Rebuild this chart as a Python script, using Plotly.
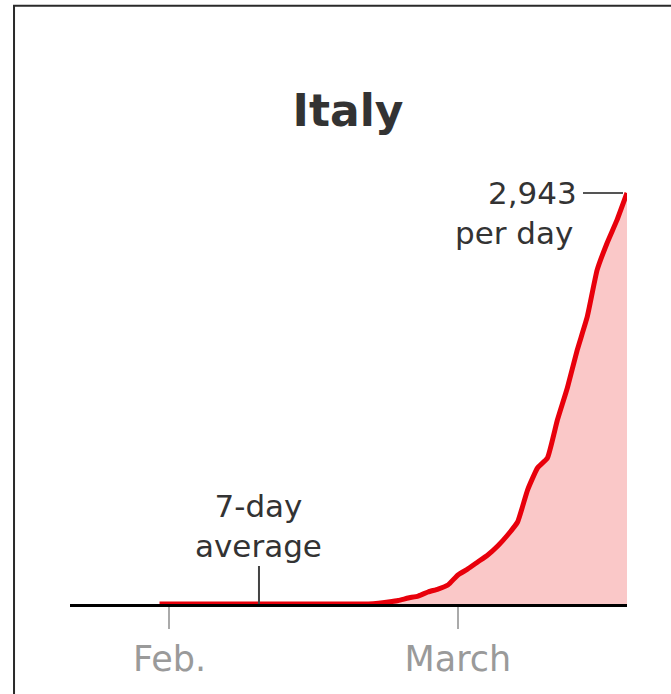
import pandas as pd
import plotly.graph_objects as go

# 7-day average of new cases in Italy
dates = pd.date_range("2020-01-31", "2020-03-18", freq="D")
cases = [0] * 22 + [
    5, 14, 25, 43, 57, 86, 107, 136,          # Feb 22 - Feb 29
    208, 251, 301, 351, 415, 494, 587, 816,   # Mar 1 - Mar 8
    974, 1045, 1317, 1547, 1819, 2055, 2392,  # Mar 9 - Mar 15
    2585, 2750, 2943,                         # Mar 16 - Mar 18
]
tick_vals = ["2020-02-01", "2020-03-01"]
tick_text = ["Feb.", "March"]
x_range = ["2020-01-22", "2020-03-18"]

FONT = "DejaVu Sans"
TEXT = "#333333"

fig = go.Figure()
fig.add_trace(go.Scatter(
    x=dates, y=cases,
    mode="lines",
    line=dict(color="#e8000b", width=5, shape="spline", smoothing=0.4),
    fill="tozeroy",
    fillcolor="rgba(249,192,192,0.88)",
    hoverinfo="skip",
    showlegend=False))

fig.add_annotation(
    x=dates[-1], y=cases[-1], text="2,943",
    showarrow=True, arrowhead=0, arrowwidth=2, arrowcolor="#555555",
    ax=-44, ay=0, xanchor="right", standoff=4, borderpad=5,
    font=dict(family=FONT, size=31, color=TEXT))
fig.add_annotation(
    x=dates[-1], y=cases[-1], text="per day",
    showarrow=False, xanchor="right", yanchor="middle",
    xshift=-52, yshift=-40,
    font=dict(family=FONT, size=31, color=TEXT))
fig.add_annotation(
    x="2020-02-10", y=0, text="7-day<br>average",
    showarrow=True, arrowhead=0, arrowwidth=2, arrowcolor="#444444",
    ax=0, ay=-38, yanchor="bottom",
    font=dict(family=FONT, size=31, color=TEXT))

# card border
fig.add_shape(type="rect", xref="paper", yref="paper",
              x0=-0.1005, x1=1.2, y0=-0.3, y1=1.428,
              line=dict(color="#2a2a2a", width=2))

fig.update_layout(
    width=671, height=694,
    margin=dict(l=70, r=44, t=185, b=90),
    paper_bgcolor="white", plot_bgcolor="white",
    title=dict(text="<b>Italy</b>", x=348 / 671, xanchor="center",
               y=1 - 111 / 694, yanchor="middle",
               font=dict(family=FONT, size=44, color=TEXT)),
    xaxis=dict(range=x_range, type="date",
               tickvals=tick_vals, ticktext=tick_text,
               showgrid=False, zeroline=False,
               showline=True, linecolor="black", linewidth=3,
               ticks="outside", ticklen=22, tickwidth=2, tickcolor="#aaaaaa",
               tickfont=dict(family=FONT, size=35, color="#9a9a9a"),
               layer="below traces", fixedrange=True),
    yaxis=dict(range=[0, 3000], visible=False, fixedrange=True),
)

fig.write_html("out.html", config={"displayModeBar": False},
               post_script="document.body.style.margin='0';")
